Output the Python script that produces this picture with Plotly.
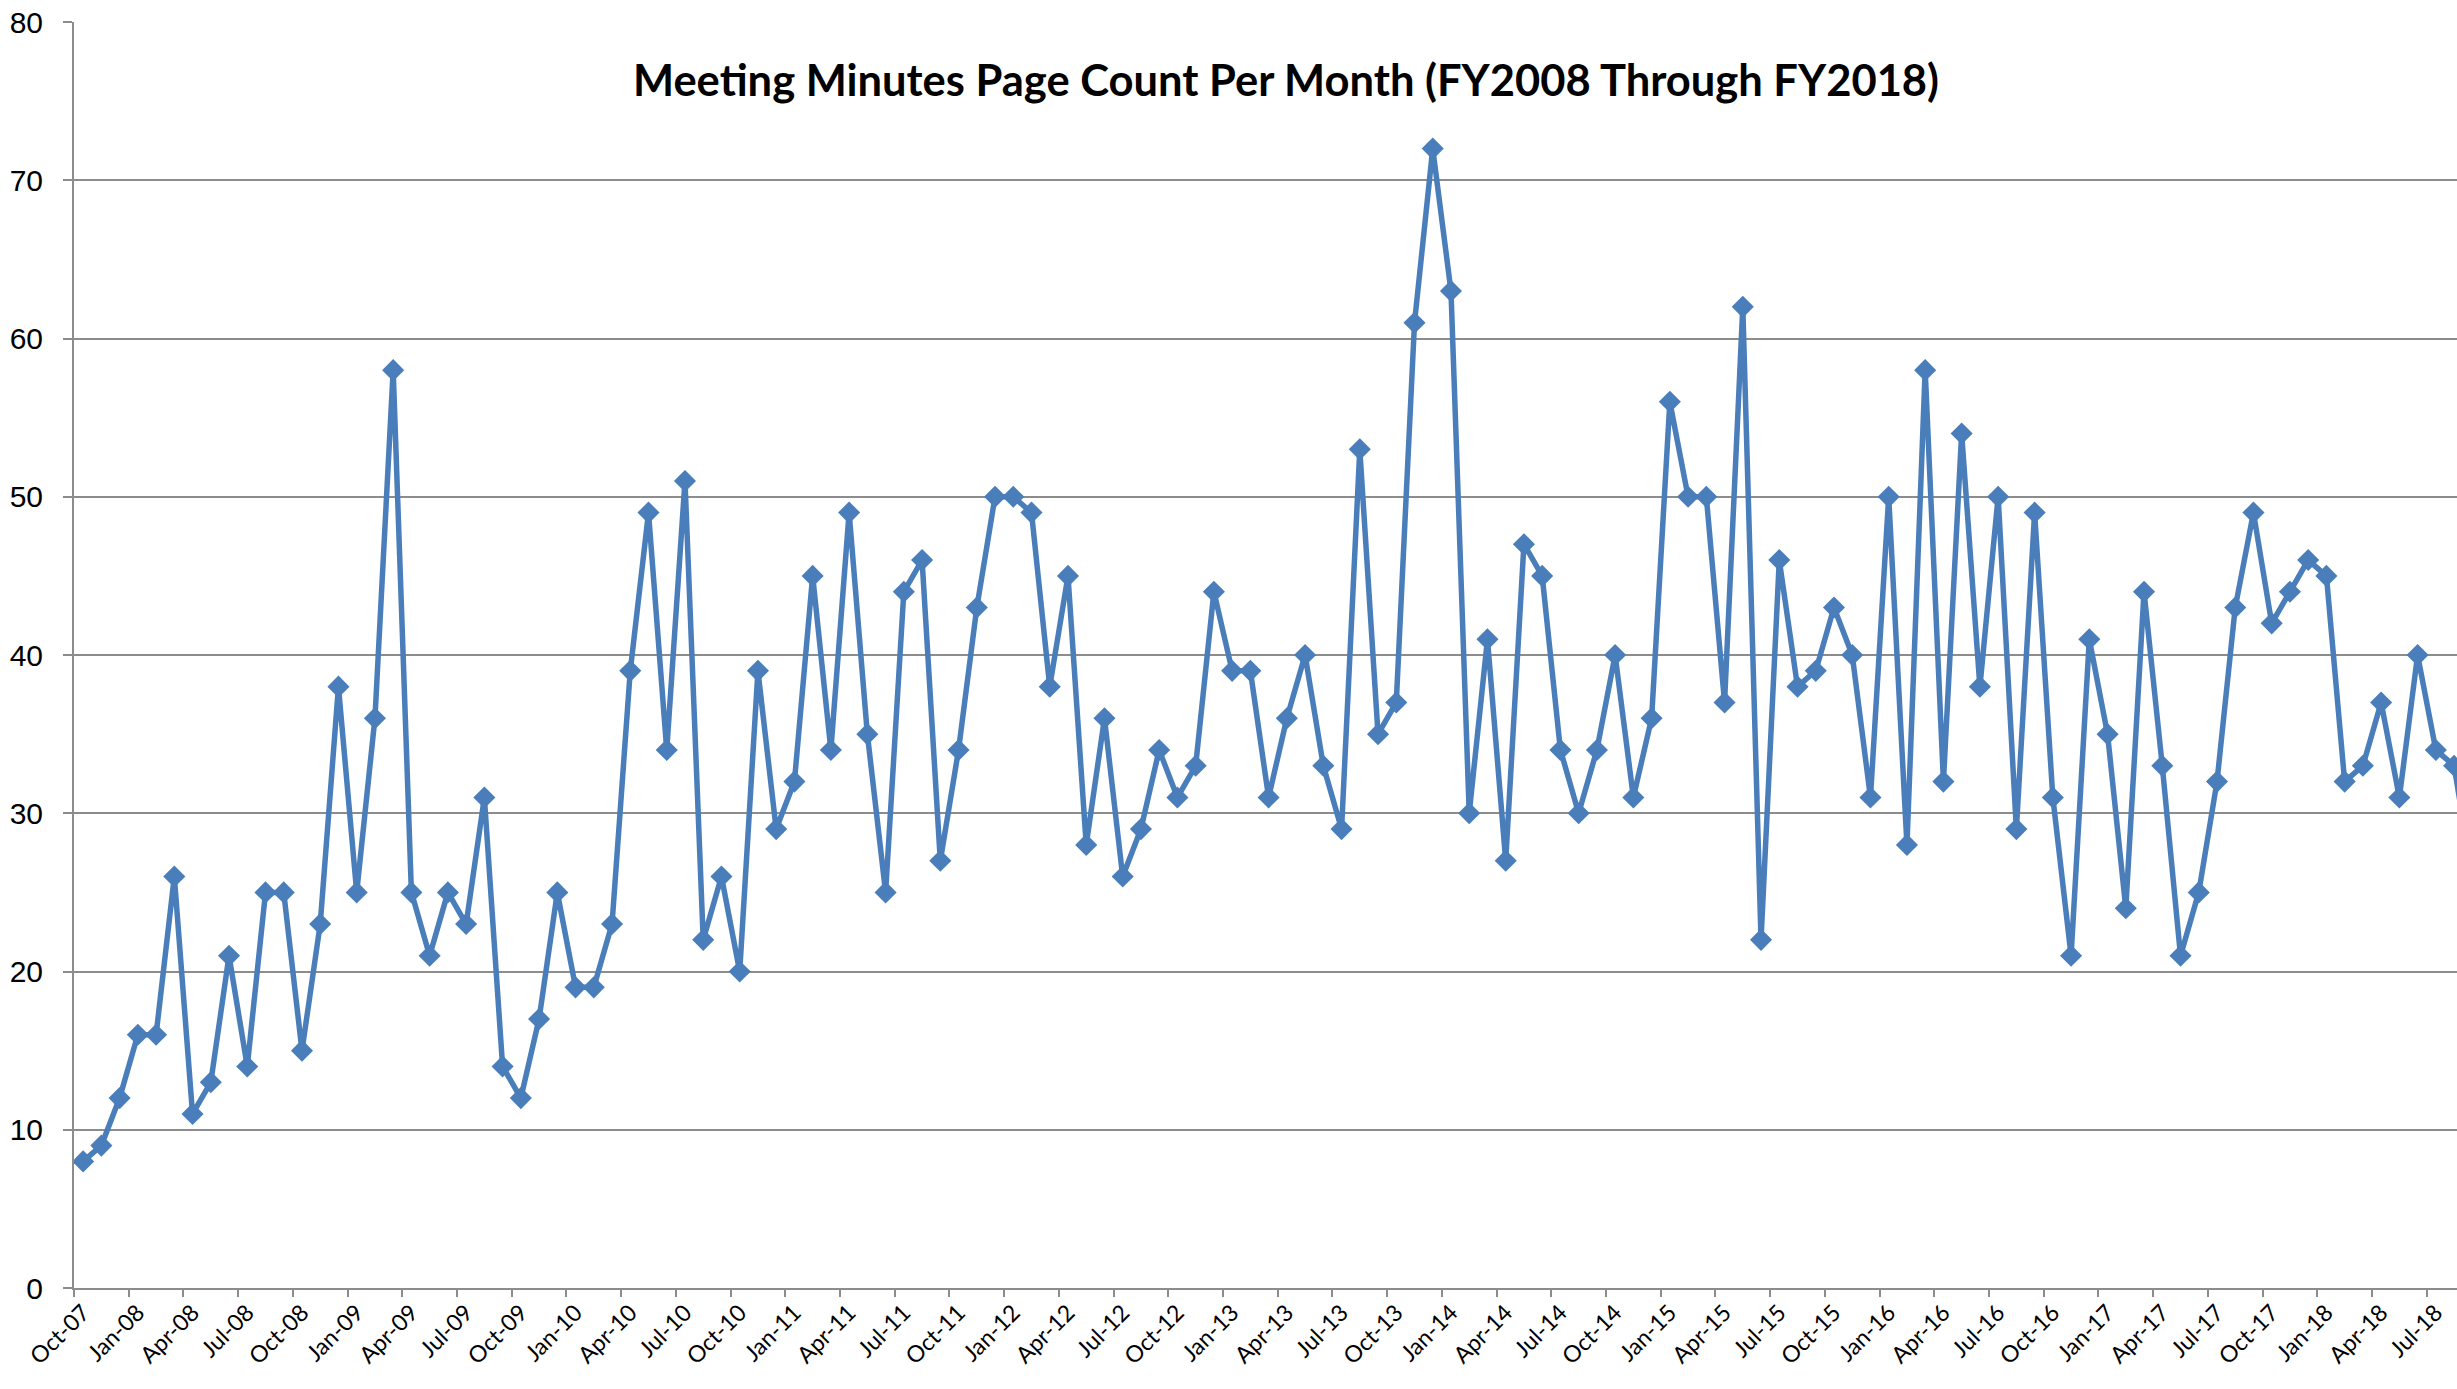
import pandas as pd
import plotly.graph_objects as go

# Monthly page counts, Oct-07 .. Sep-18 (FY2008 through FY2018)
pages_fy08_10 = [8, 9, 12, 16, 16, 26, 11, 13, 21, 14, 25, 25,
                 15, 23, 38, 25, 36, 58, 25, 21, 25, 23, 31, 14,
                 12, 17, 25, 19, 19, 23, 39, 49, 34, 51, 22, 26]
pages_fy11_13 = [20, 39, 29, 32, 45, 34, 49, 35, 25, 44, 46, 27,
                 34, 43, 50, 50, 49, 38, 45, 28, 36, 26, 29, 34,
                 31, 33, 44, 39, 39, 31, 36, 40, 33, 29, 53, 35]
pages_fy14_16 = [37, 61, 72, 63, 30, 41, 27, 47, 45, 34, 30, 34,
                 40, 31, 36, 56, 50, 50, 37, 62, 22, 46, 38, 39,
                 43, 40, 31, 50, 28, 58, 32, 54, 38, 50, 29, 49]
pages_fy17_18 = [31, 21, 41, 35, 24, 44, 33, 21, 25, 32, 43, 49,
                 42, 44, 46, 45, 32, 33, 37, 31, 40, 34, 33, 26]
pages = pages_fy08_10 + pages_fy11_13 + pages_fy14_16 + pages_fy17_18

months = list(pd.date_range("2007-10-01", periods=len(pages), freq="MS").strftime("%b-%y"))

title_text = "Meeting Minutes Page Count Per Month (FY2008 Through FY2018)"
y_ticks = [0, 10, 20, 30, 40, 50, 60, 70, 80]

LINE = "#4A7EBB"
GRID = "#8c8c8c"
W, H = 2457, 1389

fig = go.Figure(
    go.Scatter(
        x=months, y=pages, mode="lines+markers",
        line=dict(color=LINE, width=5.5),
        marker=dict(symbol="diamond", size=17, color=LINE),
        hoverinfo="x+y",
    )
)

fig.update_layout(
    width=W, height=H,
    margin=dict(l=74, r=0, t=22, b=101, pad=0),
    paper_bgcolor="white", plot_bgcolor="white",
    showlegend=False,
    title=dict(
        text=title_text,
        font=dict(family="Lato", size=43.5, color="black", weight="bold"),
        x=1286 / W, xref="container", xanchor="center",
        y=1 - 81 / H, yref="container", yanchor="middle",
    ),
    xaxis=dict(
        type="category", range=[-0.5, 130.16],
        tickmode="linear", tick0=0, dtick=3, tickson="boundaries",
        ticks="outside", ticklen=7, tickwidth=2, tickcolor=GRID,
        showgrid=False, showline=True, linecolor=GRID, linewidth=2,
        tickangle=-45, tickfont=dict(family="Lato", size=23, color="black"),
        zeroline=False,
    ),
    yaxis=dict(
        range=[0, 80], tickmode="array", tickvals=y_ticks,
        ticktext=[str(v) for v in y_ticks],
        showgrid=True, gridcolor=GRID, gridwidth=1.5,
        ticks="outside", ticklen=9, tickwidth=1.5, tickcolor=GRID,
        showline=True, linecolor=GRID, linewidth=2,
        tickfont=dict(family="Liberation Sans", size=30, color="black"),
        ticklabelstandoff=14, zeroline=False,
    ),
)

fig.write_html(
    "out.html",
    config={"displayModeBar": False},
    post_script="document.body.style.margin='0';document.body.style.overflow='hidden';",
)
